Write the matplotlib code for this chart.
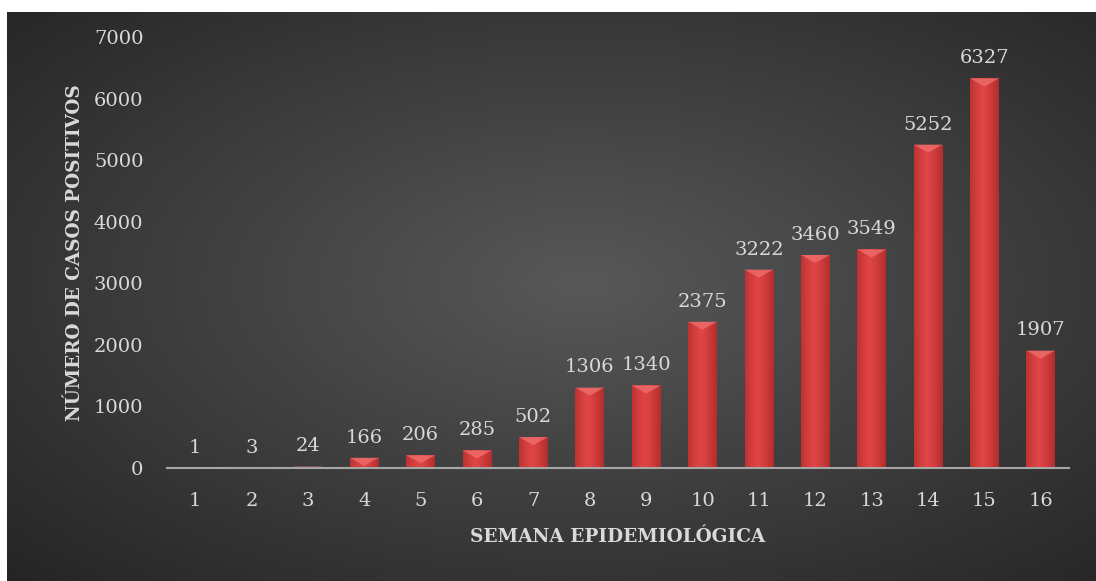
import numpy as np
import matplotlib.pyplot as plt
from matplotlib.patches import Polygon

# datos
semanas = [str(i) for i in range(1, 17)]
casos = [1, 3, 24, 166, 206, 285, 502, 1306, 1340, 2375, 3222, 3460, 3549, 5252, 6327, 1907]

W, H = 1096, 581
fig = plt.figure(figsize=(W / 100, H / 100), dpi=100)
fig.patch.set_facecolor('white')

# fondo con degradado radial
bg = fig.add_axes([7 / W, 0, 1 - 7 / W, 569 / H])
bg.set_axis_off()
yy, xx = np.mgrid[0:200, 0:380]
cx, cy = 200, 95
r = np.sqrt(((xx - cx) / 380) ** 2 + ((yy - cy) / 200) ** 2)
r = np.clip(r / 0.75, 0, 1)
c0 = np.array([0x58, 0x58, 0x58]) / 255
c1 = np.array([0x24, 0x24, 0x24]) / 255
img = c0[None, None, :] * (1 - r[..., None]) + c1[None, None, :] * r[..., None]
bg.imshow(img, aspect='auto', extent=[0, 1, 0, 1], interpolation='bicubic')
bg.set_xlim(0, 1)
bg.set_ylim(0, 1)

ax = fig.add_axes([167 / W, (H - 468) / H, 902 / W, 431 / H])
ax.patch.set_alpha(0)
x = np.arange(1, 17)
bars = ax.bar(x, casos, width=0.51, color='none', edgecolor='none', zorder=2)
ax.set_xlim(0.5, 16.5)
ax.set_ylim(0, 7000)

# degradado horizontal para cada barra
grad = np.linspace(0, 1, 64)
shade = 1 - 0.55 * np.abs(grad - 0.45) ** 1.3 * 2.2
dark = np.array([0.55, 0.10, 0.10])
light = np.array([0.88, 0.27, 0.27])
col = dark[None, :] + (light - dark)[None, :] * np.clip(shade, 0, 1)[:, None]
bar_img = np.tile(col[None, :, :], (2, 1, 1))

units_per_px = 7000 / 431
for b, v in zip(bars, casos):
    x0, w = b.get_x(), b.get_width()
    if v <= 0:
        continue
    im = ax.imshow(bar_img, aspect='auto', extent=[x0, x0 + w, 0, v],
                   interpolation='bicubic', zorder=2)
    im.set_clip_path(b)
    # bisel superior
    bh = min(v, 8 * units_per_px)
    tri = Polygon([[x0, v], [x0 + w, v], [x0 + w * 0.78, v - bh],
                   [x0 + w * 0.22, v - bh]] if v < 8 * units_per_px else
                  [[x0, v], [x0 + w, v], [x0 + w / 2, v - bh]],
                  closed=True, facecolor='#f07070', edgecolor='none', alpha=0.75, zorder=3)
    ax.add_patch(tri)
    ax.annotate(f'{v}', (b.get_x() + w / 2, v), xytext=(0, 8), textcoords='offset points',
                ha='center', va='bottom', fontsize=14, color='#d9d9d9',
                family='DejaVu Serif')

ax.set_xticks(x)
ax.set_xticklabels(semanas)
ax.set_yticks(range(0, 7001, 1000))
ax.tick_params(axis='both', length=0, labelsize=14, labelcolor='#d9d9d9')
ax.tick_params(axis='x', pad=17)
ax.tick_params(axis='y', pad=17)
for lab in ax.get_xticklabels() + ax.get_yticklabels():
    lab.set_family('DejaVu Serif')

for s in ['top', 'right', 'left']:
    ax.spines[s].set_visible(False)
ax.spines['bottom'].set_color('#a6a6a6')
ax.spines['bottom'].set_linewidth(1.5)
ax.spines['bottom'].set_zorder(4)

ax.set_xlabel('SEMANA EPIDEMIOLÓGICA', fontsize=13.3, fontweight='bold', color='#d9d9d9',
              family='DejaVu Serif', labelpad=13)
ax.set_ylabel('NÚMERO DE CASOS POSITIVOS', fontsize=13.2, fontweight='bold', color='#d9d9d9',
              family='DejaVu Serif', labelpad=7)

fig.savefig('out.png', dpi=100, facecolor=fig.get_facecolor())
